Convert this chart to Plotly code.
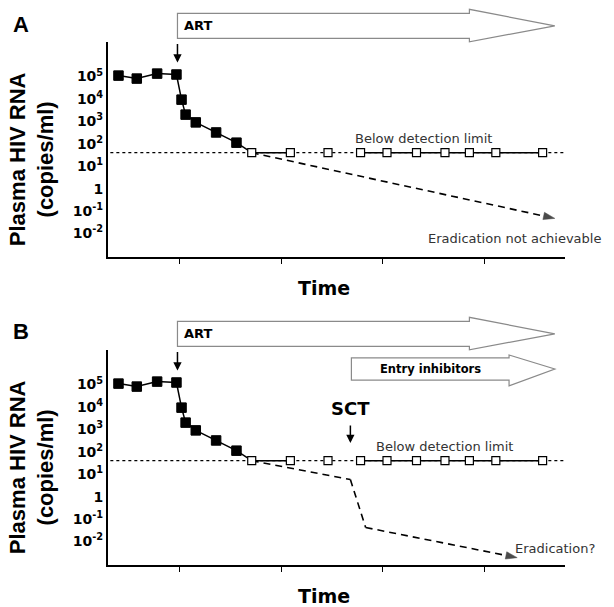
import plotly.graph_objects as go

# ---------------- data ----------------
pre_time = [0.40, 0.58, 0.78, 0.97, 1.02, 1.06, 1.16, 1.36, 1.56]
pre_rna = [1.1e5, 8.1e4, 1.35e5, 1.23e5, 9.3e3, 2.0e3, 9.0e2, 3.2e2, 1.12e2]

bdl_time = [1.71, 2.09, 2.46, 2.78, 3.04, 3.33, 3.61, 3.85, 4.11, 4.57]
bdl_rna = [40, 40, 40, 40, 40, 40, 40, 40, 40, 40]

detect_time = [0.32, 4.79]
detect_rna = [40, 40]

proj_a_time = [1.71, 4.69]
proj_a_rna = [40, 0.047]

proj_b_time = [1.71, 2.68, 2.83, 4.32]
proj_b_rna = [40, 5.8, 0.042, 0.0019]

ytick_vals = [1e-2, 1e-1, 1, 1e1, 1e2, 1e3, 1e4, 1e5]
ytick_text = ["10<sup>-2</sup>", "10<sup>-1</sup>", "1", "10<sup>1</sup>",
              "10<sup>2</sup>", "10<sup>3</sup>", "10<sup>4</sup>", "10<sup>5</sup>"]
xtick_vals = [1, 2, 3, 4]

art_start = 0.98
therapy_end = 4.69
entry_start = 2.69
sct_time = 2.68

# ---------------- figure ----------------
fig = go.Figure()

def add_panel(xa, ya, proj_t, proj_r):
    # detection limit (dotted)
    fig.add_trace(go.Scatter(x=detect_time, y=detect_rna, mode="lines", xaxis=xa, yaxis=ya,
                             line=dict(color="black", width=1.3, dash="dot"), hoverinfo="skip"))
    # projection (dashed) with arrow head
    sizes = [0] * (len(proj_t) - 1) + [12]
    fig.add_trace(go.Scatter(x=proj_t, y=proj_r, mode="lines+markers", xaxis=xa, yaxis=ya,
                             line=dict(color="black", width=1.6, dash="7px,5px"),
                             marker=dict(symbol="arrow", size=sizes, angleref="previous",
                                         color="black", line=dict(color="black", width=0.5)),
                             hoverinfo="skip"))
    # solid line through below-detection points (gap where only the dotted limit shows)
    seg_x = bdl_time[0:2] + [None] + bdl_time[3:]
    seg_y = bdl_rna[0:2] + [None] + bdl_rna[3:]
    fig.add_trace(go.Scatter(x=seg_x, y=seg_y, mode="lines", xaxis=xa, yaxis=ya,
                             line=dict(color="black", width=1.5), connectgaps=False,
                             hoverinfo="skip"))
    # pre / early ART viral load (filled squares)
    fig.add_trace(go.Scatter(x=pre_time + [bdl_time[0]], y=pre_rna + [bdl_rna[0]],
                             mode="lines", xaxis=xa, yaxis=ya,
                             line=dict(color="black", width=1.5), hoverinfo="skip"))
    fig.add_trace(go.Scatter(x=pre_time, y=pre_rna, mode="markers", xaxis=xa, yaxis=ya,
                             marker=dict(symbol="square", size=9.5, color="black",
                                         line=dict(color="black", width=1))))
    fig.add_trace(go.Scatter(x=bdl_time, y=bdl_rna, mode="markers", xaxis=xa, yaxis=ya,
                             marker=dict(symbol="square", size=8, color="white",
                                         line=dict(color="black", width=1.2))))

add_panel("x", "y", proj_a_time, proj_a_rna)
add_panel("x2", "y2", proj_b_time, proj_b_rna)

xdom = [108 / 614, 565 / 614]
ydomA = [1 - 257 / 607, 1 - 42 / 607]
ydomB = [1 - 565 / 607, 1 - 350 / 607]

xax = dict(domain=xdom, range=[0.297, 4.79], showline=True, linecolor="black", linewidth=2,
           ticks="outside", tickvals=xtick_vals, ticklen=5, tickwidth=1.3, tickcolor="black",
           showticklabels=False, showgrid=False, zeroline=False)
yax = dict(type="log", range=[-3.05, 6.54], showline=True, linecolor="black", linewidth=2,
           ticks="", tickvals=ytick_vals, ticktext=ytick_text,
           tickfont=dict(family="DejaVu Sans", size=14, color="black", weight="bold"),
           showgrid=False, zeroline=False)

fig.update_layout(
    width=614, height=607, autosize=False,
    margin=dict(l=0, r=0, t=0, b=0),
    paper_bgcolor="white", plot_bgcolor="white",
    showlegend=False,
    xaxis=dict(xax, anchor="y"),
    yaxis=dict(yax, domain=ydomA, anchor="x"),
    xaxis2=dict(xax, anchor="y2"),
    yaxis2=dict(yax, domain=ydomB, anchor="x2"),
)


def note(**kw):
    kw.setdefault("showarrow", False)
    kw.setdefault("xanchor", "center")
    kw.setdefault("yanchor", "middle")
    fig.add_annotation(**kw)


def block_arrow(xref, yref, x0, x1, head_len, top, bot, htop, hbot):
    xh = x1 - head_len
    mid = (top + bot) / 2
    path = (f"M{x0},{top} L{xh},{top} L{xh},{htop} L{x1},{mid} "
            f"L{xh},{hbot} L{xh},{bot} L{x0},{bot} Z")
    fig.add_shape(type="path", path=path, xref=xref, yref=yref,
                  fillcolor="white", line=dict(color="#8a8a8a", width=1.2), layer="above")


for xr, yr, letter, letter_y in [("x", "y", "A", 1 - 25 / 607), ("x2", "y2", "B", 1 - 331 / 607)]:
    ydom = f"{yr} domain"
    # ART block arrow
    block_arrow(xr, ydom, art_start, therapy_end, 0.84, 1.133, 1.017, 1.152, 1.001)
    note(x=art_start, y=1.075, xref=xr, yref=ydom, text="<b>ART</b>",
         xanchor="left", xshift=5,
         font=dict(family="DejaVu Sans", size=13, color="black"))
    # ART start arrow
    fig.add_annotation(x=art_start, y=0.905, xref=xr, yref=ydom, ax=0, ay=-20,
                       showarrow=True, arrowhead=2, arrowsize=1.1, arrowwidth=1.5,
                       arrowcolor="black", text="")
    # panel letter
    note(x=21 / 614, y=letter_y, xref="paper", yref="paper", text=f"<b>{letter}</b>",
         font=dict(family="Liberation Sans", size=22, color="black"))
    # y-axis title
    note(x=32 / 614, y=0.455, xref="paper", yref=ydom,
         text="<b>Plasma HIV RNA<br>(copies/ml)</b>", textangle=-90,
         font=dict(family="Liberation Sans", size=22, color="black"))
    # x-axis title
    note(x=324 / 614, y=-0.144, xref="paper", yref=ydom, text="<b>Time</b>",
         font=dict(family="DejaVu Sans", size=19, color="black"))

# panel A labels
note(x=3.40, y=0.553, xref="x", yref="y domain", text="Below detection limit",
     font=dict(family="DejaVu Sans", size=13, color="#333"))
note(x=4.29, y=0.088, xref="x", yref="y domain", text="Eradication not achievable",
     font=dict(family="DejaVu Sans", size=13, color="#333"))

# panel B labels
note(x=3.61, y=0.549, xref="x2", yref="y2 domain", text="Below detection limit",
     font=dict(family="DejaVu Sans", size=13, color="#333"))
note(x=4.69, y=0.079, xref="x2", yref="y2 domain", text="Eradication?",
     font=dict(family="DejaVu Sans", size=13, color="#333"))
block_arrow("x2", "y2 domain", entry_start, therapy_end, 0.45, 0.963, 0.860, 0.977, 0.833)
note(x=3.47, y=0.912, xref="x2", yref="y2 domain", text="<b>Entry inhibitors</b>",
     font=dict(family="DejaVu Sans", size=11.5, color="black"))
note(x=sct_time, y=0.730, xref="x2", yref="y2 domain", text="<b>SCT</b>",
     font=dict(family="DejaVu Sans", size=18, color="black"))
fig.add_annotation(x=sct_time, y=0.567, xref="x2", yref="y2 domain", ax=0, ay=-19,
                   showarrow=True, arrowhead=2, arrowsize=1.1, arrowwidth=1.5,
                   arrowcolor="black", text="")

fig.write_html("out.html", config={"displayModeBar": False},
               post_script="document.body.style.margin='0px';")
